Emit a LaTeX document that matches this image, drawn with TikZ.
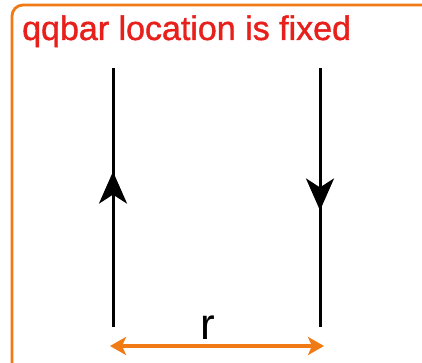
\documentclass[tikz,border=0pt]{standalone}
\usepackage{fontspec}
\setmainfont{Liberation Sans}
\newfontfamily\titlefont[FakeBold=1.2]{Liberation Sans}
\usetikzlibrary{arrows.meta,decorations.markings}
\definecolor{frameorange}{RGB}{240,122,20}
\definecolor{titlered}{RGB}{232,32,28}
\tikzset{
  frame/.style={draw=frameorange,line width=2.8pt,rounded corners=11pt},
  quark/.style={draw=black,line width=3pt},
  midarrow/.style={postaction={decorate},decoration={markings,mark=at position #1 with {\arrow{Stealth[length=32pt,width=28pt,inset=9pt]}}}},
  dist/.style={draw=frameorange,line width=3.2pt,{Stealth[length=16pt,width=18pt,inset=4pt]}-{Stealth[length=16pt,width=18pt,inset=4pt]}},
}
\begin{document}
\begin{tikzpicture}[x=1pt,y=-1pt]
\useasboundingbox (0,0) rectangle (422,363);
\begin{scope}
\clip (0,0) rectangle (422,363);
\draw[frame] (12,5) rectangle (445,375);
\end{scope}
\node[anchor=base west,inner sep=0pt,text=titlered,font=\titlefont\fontsize{34}{34}\selectfont] (title) at (22,40) {qqbar location is fixed};
\coordinate (qtop) at (113,68);
\coordinate (qbot) at (113,327);
\coordinate (qbtop) at (320,68);
\coordinate (qbbot) at (320,327);
\draw[quark,midarrow=0.6] (qbot) -- (qtop);
\draw[quark,midarrow=0.55] (qbtop) -- (qbbot);
\coordinate (rl) at (110,346);
\coordinate (rr) at (324,346);
\draw[dist] (rl) -- (rr);
\node[inner sep=0pt,anchor=base,font=\fontsize{44}{44}\selectfont] (r) at (208,339) {r};
\end{tikzpicture}
\end{document}
